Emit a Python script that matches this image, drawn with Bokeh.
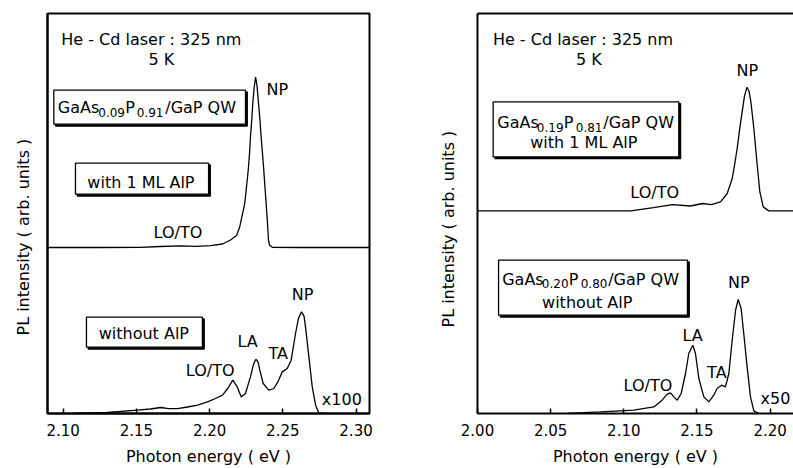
import math
from bokeh.plotting import figure
from bokeh.layouts import row
from bokeh.models import (Range1d, LinearAxis, FixedTicker, PrintfTickFormatter,
                          ColumnDataSource, Title)
from bokeh.core.properties import value
from bokeh.embed import file_html
from bokeh.resources import INLINE

FONT = "DejaVu Sans"

# ---------------- data ----------------
# Left panel: GaAs0.09P0.91/GaP QW
left_ticks = [2.10, 2.15, 2.20, 2.25, 2.30]
left_xrange = (2.0893, 2.3092)

left_top_offset = 166.0
left_top_energy = [2.0893, 2.1255, 2.1528, 2.1665, 2.1801, 2.1904, 2.2006, 2.2088,
                   2.2143, 2.2184, 2.2206, 2.2240, 2.2252, 2.2264, 2.2273, 2.2279,
                   2.2288, 2.2295, 2.2304, 2.2314, 2.2324, 2.2334, 2.2344, 2.2352,
                   2.2361, 2.2370, 2.2378, 2.2386, 2.2393, 2.2398, 2.2402, 2.2409,
                   2.2428, 2.2621, 2.3092]
left_top_intensity = [0.0, 0.0, 0.2, 1.0, 1.7, 1.2, 1.8, 3.5,
                      7.5, 12.0, 20.8, 44.2, 60.5, 77.5, 94.5, 110.5,
                      127.5, 144.5, 159.5, 170.5, 161.5, 144.5, 127.5, 110.5,
                      94.5, 77.5, 60.5, 44.5, 29.5, 17.5, 7.5, 2.5,
                      0.2, 0.0, 0.0]

left_bot_energy = [2.1070, 2.1303, 2.1508, 2.1596, 2.1665, 2.1720, 2.1781, 2.1849,
                   2.1917, 2.1986, 2.2040, 2.2088, 2.2124, 2.2158, 2.2189, 2.2216,
                   2.2245, 2.2279, 2.2300, 2.2316, 2.2331, 2.2343, 2.2366, 2.2404,
                   2.2439, 2.2466, 2.2496, 2.2530, 2.2557, 2.2587, 2.2607, 2.2628,
                   2.2645, 2.2655, 2.2678, 2.2701, 2.2724, 2.2746, 2.2780]
left_bot_intensity = [0.0, 1.0, 3.3, 4.5, 6.0, 4.8, 4.8, 6.5,
                      8.3, 11.6, 15.0, 18.3, 25.0, 33.3, 26.6, 16.6,
                      20.0, 36.6, 49.3, 54.3, 51.3, 43.3, 30.0, 23.3,
                      25.0, 31.6, 41.6, 45.0, 53.3, 80.0, 95.3, 101.6,
                      97.3, 86.6, 56.6, 26.6, 8.3, 0.6, 0.0]

# Right panel: GaAs0.19P0.81 (with AlP) / GaAs0.20P0.80 (without AlP)
right_ticks = [2.00, 2.05, 2.10, 2.15, 2.20]
right_xrange = (2.000, 2.216)

right_top_offset = 202.6
right_top_energy = [2.0000, 2.1046, 2.1203, 2.1333, 2.1456, 2.1538, 2.1599, 2.1661,
                    2.1707, 2.1741, 2.1757, 2.1775, 2.1791, 2.1809, 2.1825, 2.1842,
                    2.1856, 2.1869, 2.1889, 2.1912, 2.1930, 2.1953, 2.1991, 2.2160]
right_top_intensity = [0.0, 0.0, 3.2, 6.2, 4.9, 7.4, 6.2, 9.0,
                       17.4, 32.4, 45.7, 62.4, 80.7, 99.0, 114.7, 123.7,
                       119.7, 108.7, 82.4, 45.7, 19.0, 4.0, 0.0, 0.0]

right_bot_energy = [2.0613, 2.0841, 2.1068, 2.1205, 2.1262, 2.1297, 2.1319, 2.1342,
                    2.1365, 2.1392, 2.1422, 2.1444, 2.1472, 2.1490, 2.1513, 2.1547,
                    2.1581, 2.1615, 2.1638, 2.1668, 2.1695, 2.1718, 2.1741, 2.1764,
                    2.1782, 2.1802, 2.1820, 2.1843, 2.1866, 2.1889, 2.1923]
right_bot_intensity = [0.0, 1.6, 3.3, 6.6, 13.3, 19.3, 20.6, 16.6,
                       13.3, 20.0, 40.0, 60.0, 68.3, 60.0, 35.0, 16.6,
                       11.6, 18.3, 25.0, 28.3, 26.6, 40.0, 73.3, 103.3,
                       114.0, 105.0, 80.0, 46.6, 16.6, 2.6, 0.0]

# ---------------- annotations ----------------
left_labels = dict(
    x=[2.1602, 2.1670, 2.2462, 2.1784, 2.2635, 2.2259, 2.2469, 2.2004, 2.2903],
    y=[373.6, 354.3, 324.3, 181.0, 118.6, 72.0, 60.0, 43.3, 14.3],
    text=["He - Cd laser : 325 nm", "5 K", "NP", "LO/TO", "NP", "LA", "TA", "LO/TO", "x100"],
)
right_labels = dict(
    x=[2.0721, 2.0761, 2.1844, 2.1211, 2.1786, 2.1471, 2.1636, 2.1165, 2.2037],
    y=[373.6, 354.3, 342.6, 221.0, 131.0, 77.6, 41.0, 27.6, 15.3],
    text=["He - Cd laser : 325 nm", "5 K", "NP", "LO/TO", "NP", "LA", "TA", "LO/TO", "x50"],
)

# boxes: left, right, top, bottom
left_boxes = dict(l=[2.0936, 2.1084, 2.1159], r=[2.2245, 2.1993, 2.1951],
                  t=[323.3, 250.3, 96.3], b=[289.3, 219.3, 66.3])
right_boxes = dict(l=[2.0107, 2.0144], r=[2.1376, 2.1435],
                   t=[311.6, 153.3], b=[256.6, 98.3])

left_box_text = dict(x=[2.1531, 2.1551], y=[231.0, 80.0],
                     text=["with 1 ML AlP", "without AlP"])
right_box_text = dict(x=[2.0727, 2.0750], y=[271.0, 111.0],
                      text=["with 1 ML AlP", "without AlP"])

# formulas: pieces (text, x offset in px, subscript?)
formula_parts_left = [("GaAs", 0.0, False), ("0.09", 40.5, True), ("P", 67.5, False),
                      ("0.91", 79.0, True), ("/GaP QW", 107.5, False)]
formula_parts_r1 = [("GaAs", 0.0, False), ("0.19", 39.6, True), ("P", 66.6, False),
                    ("0.81", 78.5, True), ("/GaP QW", 106.0, False)]
formula_parts_r2 = [("GaAs", 0.0, False), ("0.20", 39.6, True), ("P", 66.6, False),
                    ("0.80", 78.5, True), ("/GaP QW", 106.0, False)]


def bare_axis():
    a = LinearAxis(ticker=FixedTicker(ticks=[], minor_ticks=[]))
    a.axis_line_width = 2
    a.major_tick_in = 0
    a.major_tick_out = 0
    a.minor_tick_in = 0
    a.minor_tick_out = 0
    a.major_tick_line_color = None
    a.minor_tick_line_color = None
    a.major_label_text_color = None
    return a


def make_fig(width, bl, br, xr, ticks, ylabel_offset, ylabel_standoff, full_box):
    p = figure(width=width, height=468, x_range=Range1d(*xr), y_range=Range1d(0, 400),
               output_backend="svg", toolbar_location=None,
               min_border_left=bl, min_border_right=br, min_border_top=13,
               min_border_bottom=55, x_axis_location=None, y_axis_location=None,
               background_fill_color="white", border_fill_color="white")
    # remove the default (hidden-axis) grids
    p.grid.visible = False
    p.grid.grid_line_color = None
    p.center = []
    if full_box:
        p.outline_line_color = "black"
        p.outline_line_width = 2
    else:
        p.outline_line_color = None
    xa = LinearAxis(ticker=FixedTicker(ticks=ticks, minor_ticks=[]),
                    formatter=PrintfTickFormatter(format="%.2f"),
                    axis_label="Photon energy ( eV )")
    xa.axis_line_width = 2
    xa.major_tick_in = 5
    xa.major_tick_out = 0
    xa.major_tick_line_width = 1.5
    xa.minor_tick_in = 0
    xa.minor_tick_out = 0
    xa.major_label_standoff = 10
    xa.major_label_text_font = FONT
    xa.major_label_text_font_size = "15px"
    xa.major_label_text_color = "black"
    xa.axis_label_standoff = 8
    xa.axis_label_text_font = FONT
    xa.axis_label_text_font_size = "16px"
    xa.axis_label_text_font_style = "normal"
    xa.axis_label_text_color = "black"
    p.add_layout(xa, "below")
    p.add_layout(bare_axis(), "left")
    if not full_box:
        p.add_layout(bare_axis(), "above")
    yt = Title(text="PL intensity ( arb. units )", align="left", vertical_align="top",
               offset=ylabel_offset, standoff=ylabel_standoff,
               text_font=FONT, text_font_size="16px", text_font_style="normal",
               text_color="black")
    p.add_layout(yt, "left")
    return p


def add_content(p, spectra, labels, boxes, box_text, formulas, px_per_ev):
    for en, inten, off in spectra:
        src = ColumnDataSource(dict(x=en, y=[v + off for v in inten]))
        p.line("x", "y", source=src, line_color="black", line_width=1.3)
    # boxes with shadow
    sh = 1.8
    bsrc = ColumnDataSource(dict(l=boxes["l"], r=boxes["r"], t=boxes["t"], b=boxes["b"],
                                 ls=[v + sh / px_per_ev for v in boxes["l"]],
                                 rs=[v + sh / px_per_ev for v in boxes["r"]],
                                 ts=[v - sh for v in boxes["t"]],
                                 bs=[v - sh for v in boxes["b"]]))
    p.quad(left="ls", right="rs", top="ts", bottom="bs", source=bsrc,
           fill_color="black", line_color="black", line_width=1.3)
    p.quad(left="l", right="r", top="t", bottom="b", source=bsrc,
           fill_color="white", line_color="black", line_width=1.3)
    p.text(x="x", y="y", text="text", source=ColumnDataSource(labels),
           text_font=value(FONT), text_font_size="16px", text_align="center",
           text_baseline="alphabetic", text_color="black")
    p.text(x="x", y="y", text="text", source=ColumnDataSource(box_text),
           text_font=value(FONT), text_font_size="16px", text_align="center",
           text_baseline="alphabetic", text_color="black")
    for x0, y0, parts in formulas:
        d = dict(x=[], y=[], text=[], xo=[], fs=[])
        for t, xo, sub in parts:
            d["x"].append(x0)
            d["y"].append(y0 - 4.5 if sub else y0)
            d["text"].append(t)
            d["xo"].append(xo)
            d["fs"].append("12px" if sub else "16px")
        p.text(x="x", y="y", text="text", x_offset="xo", text_font_size="fs",
               source=ColumnDataSource(d), text_font=value(FONT), text_align="left",
               text_baseline="alphabetic", text_color="black")


left = make_fig(400, 47, 31, left_xrange, left_ticks, 78, 26, True)
add_content(left,
            [(left_top_energy, left_top_intensity, left_top_offset),
             (left_bot_energy, left_bot_intensity, 0.0)],
            left_labels, left_boxes, left_box_text,
            [(2.0963, 306.0, formula_parts_left)], 1464.0)

right = make_fig(393, 77, 0, right_xrange, right_ticks, 86, 36, False)
add_content(right,
            [(right_top_energy, right_top_intensity, right_top_offset),
             (right_bot_energy, right_bot_intensity, 0.0)],
            right_labels, right_boxes, right_box_text,
            [(2.0135, 291.0, formula_parts_r1), (2.0169, 134.3, formula_parts_r2)], 1463.0)

layout = row(left, right)
open("out.html", "w").write(file_html(layout, INLINE))
